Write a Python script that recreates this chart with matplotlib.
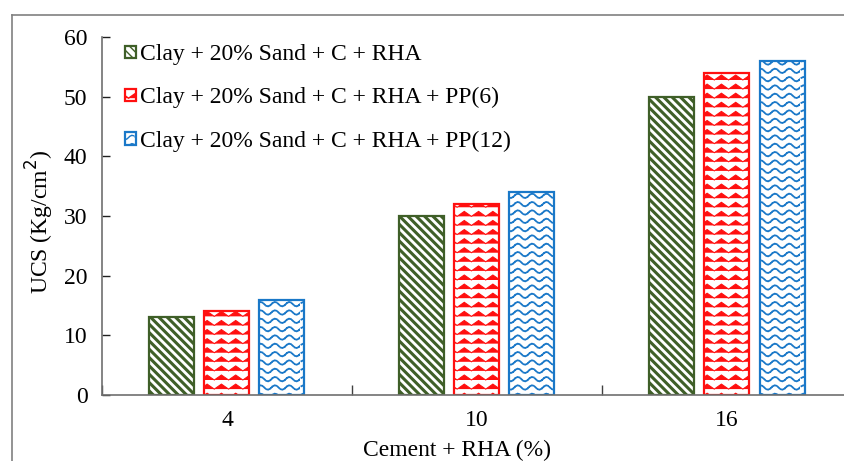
import warnings
import numpy as np
import matplotlib
matplotlib.use("Agg")
import matplotlib.pyplot as plt
import matplotlib.hatch as mhatch
from matplotlib.path import Path
from matplotlib.lines import Line2D

warnings.filterwarnings("ignore")

# ---------------- data ----------------
categories = ["4", "10", "16"]
series_names = ["Clay + 20% Sand + C + RHA",
                "Clay + 20% Sand + C + RHA + PP(6)",
                "Clay + 20% Sand + C + RHA + PP(12)"]
ucs_rha = [13, 30, 50]
ucs_pp6 = [14, 32, 54]
ucs_pp12 = [16, 34, 56]
y_ticks = [0, 10, 20, 30, 40, 50, 60]

# ---------------- custom hatch patterns ----------------
class ZigzagHatch(mhatch.HatchPatternBase):
    def __init__(self, hatch, density):
        n = hatch.count('z')
        self.rows = 11 if n else 0
        self.periods = 7
        self.npts = 2 * self.periods + 1
        self.num_vertices = self.rows * self.npts

    def set_vertices_and_codes(self, vertices, codes):
        xs = np.linspace(0, 1, self.npts)
        amp = 0.05
        for r in range(self.rows):
            y0 = (r + 0.2) / self.rows
            sl = slice(r * self.npts, (r + 1) * self.npts)
            vertices[sl, 0] = xs
            vertices[sl, 1] = y0 + amp * (np.arange(self.npts) % 2)
            codes[sl] = Path.LINETO
            codes[r * self.npts] = Path.MOVETO


class WaveHatch(mhatch.HatchPatternBase):
    # dashed wavy lines: dash on crest, dot, dash in trough, dot
    PIECES = [(0.10, 0.36), (0.46, 0.54), (0.64, 0.90), (0.97, 1.03)]
    SUB = 3

    def __init__(self, hatch, density):
        n = hatch.count('w')
        self.rows = 12 if n else 0
        self.periods = 7
        self.num_vertices = self.rows * self.periods * len(self.PIECES) * self.SUB

    def set_vertices_and_codes(self, vertices, codes):
        amp = 0.022
        idx = 0
        for r in range(self.rows):
            y0 = (r + 0.5) / self.rows
            for p in range(self.periods):
                for (a, b) in self.PIECES:
                    ph = np.linspace(a, b, self.SUB)
                    xx = (p + ph) / self.periods
                    for j in range(self.SUB):
                        vertices[idx, 0] = xx[j]
                        vertices[idx, 1] = y0 + amp * np.cos(2 * np.pi * (ph[j] - 0.25))
                        codes[idx] = Path.MOVETO if j == 0 else Path.LINETO
                        idx += 1


mhatch._hatch_types.append(ZigzagHatch)
mhatch._hatch_types.append(WaveHatch)

# ---------------- style ----------------
plt.rcParams['font.family'] = ['Liberation Serif', 'DejaVu Serif']
FS = 17
plt.rcParams['font.size'] = FS

green = "#3f5f28"
red = "#ff1010"
blue = "#1a78c8"

fig = plt.figure(figsize=(8.45, 4.61), dpi=100)
ax = fig.add_axes([102 / 845, 1 - 395 / 461, 750 / 845, 358 / 461])

x = np.arange(len(categories))
width = 0.18
offset = 0.22

specs = [
    (ucs_rha, green, '\\' * 4, 2.2, -offset),
    (ucs_pp6, red, 'z', 0.75, 0.0),
    (ucs_pp12, blue, 'w', 1.3, offset),
]

handles = []
for (vals, col, hatch, hlw, off), name in zip(specs, series_names):
    with plt.rc_context({'hatch.linewidth': hlw}):
        bars = ax.bar(x + off, vals, width, facecolor='white', edgecolor=col,
                      hatch=hatch, linewidth=1.6, label=name, zorder=2)
        for b in bars:
            if hasattr(b, 'set_hatch_linewidth'):
                b.set_hatch_linewidth(hlw)
    handles.append(bars)

ax.set_xlim(-0.5, 2.5)
ax.set_ylim(0, 60)
ax.set_yticks(y_ticks)
ax.set_xticks([-0.5, 0.5, 1.5, 2.5])
ax.set_xticklabels([])
ax.set_xticks(x, minor=True)
ax.set_xticklabels(categories, minor=True)
ax.tick_params(axis='x', which='major', direction='in', length=7, width=1, color='#404040')
ax.tick_params(axis='x', which='minor', length=0, pad=11, labelsize=FS)
ax.tick_params(axis='y', direction='in', length=6, width=1, color='#202020', pad=10.5, labelsize=FS)

for s in ['top', 'right']:
    ax.spines[s].set_visible(False)
for s in ['left', 'bottom']:
    ax.spines[s].set_color('#707070')
    ax.spines[s].set_linewidth(1.2)

ax.set_ylabel("UCS (Kg/cm$^2$)", fontsize=FS)
ax.yaxis.set_label_coords(-0.061, 0.485)
ax.set_xlabel("Cement + RHA (%)", fontsize=FS)
ax.xaxis.set_label_coords((457 - 102) / 750, -0.124)

leg = ax.legend(handles=handles, loc='upper left', bbox_to_anchor=(0.018, 1.006),
                frameon=False, fontsize=FS, handlelength=0.45, handleheight=0.45,
                handletextpad=0.2, labelspacing=0.93, borderaxespad=0.0)

# outer chart-area frame (cropped on right and bottom)
fl = 12.5 / 845
ft = 1 - 15.5 / 461
fig.add_artist(Line2D([fl, fl], [ft, -0.1], transform=fig.transFigure, color='#808080', lw=1.2))
fig.add_artist(Line2D([fl, 1.1], [ft, ft], transform=fig.transFigure, color='#808080', lw=1.2))

fig.savefig("out.png", dpi=100)
